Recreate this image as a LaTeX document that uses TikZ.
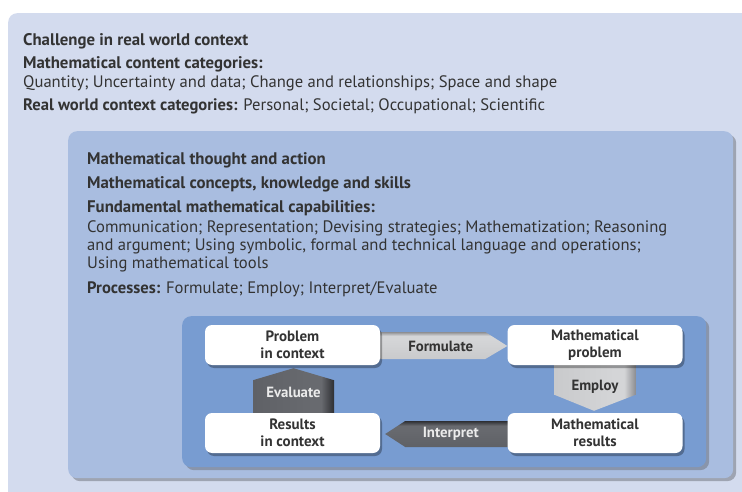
\documentclass[tikz,border=0pt]{standalone}
\usepackage{fontspec}
\setmainfont{PT Sans}
\usetikzlibrary{shadows,calc}
\definecolor{outerbg}{HTML}{D3DBEE}
\definecolor{midbg}{HTML}{A9BDE0}
\definecolor{innerbg}{HTML}{789CD1}
\definecolor{txt}{HTML}{333333}
\definecolor{shad}{HTML}{6B6E78}
\definecolor{la}{HTML}{C9CACC}
\definecolor{lb}{HTML}{D4D5D7}
\definecolor{lc}{HTML}{8D8E92}
\definecolor{da}{HTML}{5F6166}
\definecolor{db}{HTML}{686A6F}
\definecolor{dc}{HTML}{2E2F33}
\pgfdeclarelayer{back}
\pgfdeclarelayer{arr}
\pgfsetlayers{back,arr,main}
\pgfdeclareverticalshading{lightH}{100bp}{color(0bp)=(la);color(25bp)=(la);color(60bp)=(lb);color(68bp)=(lb);color(75bp)=(lc);color(100bp)=(lc)}
\pgfdeclareverticalshading{darkH}{100bp}{color(0bp)=(da);color(25bp)=(da);color(60bp)=(db);color(66bp)=(db);color(75bp)=(dc);color(100bp)=(dc)}
\pgfdeclarehorizontalshading{lightV}{100bp}{color(0bp)=(la);color(25bp)=(la);color(62bp)=(lb);color(68bp)=(lb);color(75bp)=(lc);color(100bp)=(lc)}
\pgfdeclarehorizontalshading{darkV}{100bp}{color(0bp)=(da);color(25bp)=(da);color(62bp)=(db);color(67bp)=(db);color(75bp)=(dc);color(100bp)=(dc)}
\tikzset{
  panel/.style={rounded corners=9pt, anchor=north west, inner sep=0pt, draw=none},
  plain/.style={font=\fontsize{16.6}{18}\selectfont, text=txt, anchor=base west, inner sep=0pt},
  head/.style={plain, font=\fontsize{16.8}{18}\selectfont\bfseries},
  wbox/.style={fill=white, rounded corners=7pt, minimum width=175pt, minimum height=40pt,
    align=center, text=txt, font=\fontsize{15}{16.8}\selectfont\bfseries, inner sep=0pt,
    drop shadow={shadow xshift=2pt, shadow yshift=-3pt, fill=black, opacity=0.3}},
  arrlabel/.style={font=\fontsize{14.8}{16}\selectfont\bfseries, inner sep=0pt},
}
\begin{document}
\begin{tikzpicture}[x=1pt,y=-1pt]
\useasboundingbox (0,0) rectangle (742,492);
\begin{pgfonlayer}{back}
\fill[white] (0,0) rectangle (742,492);
\node[panel, fill=outerbg, minimum width=780pt, minimum height=520pt] (outer) at (8,13) {};
\node[panel, fill=midbg, minimum width=665pt, minimum height=347pt,
  drop shadow={shadow xshift=3pt, shadow yshift=-3pt, fill=shad}] (mid) at (68,131) {};
\node[panel, fill=innerbg, minimum width=524pt, minimum height=151pt,
  drop shadow={shadow xshift=3pt, shadow yshift=-3pt, fill=shad}] (inner) at (182,316) {};
\end{pgfonlayer}

% outer texts
\node[head] (o1) at (23,45.5) {Challenge in real world context};
\node[head] (o2) at (23,68.5) {Mathematical content categories:};
\node[plain] (o3) at (23,88) {Quantity; Uncertainty and data; Change and relationships; Space and shape};
\node[plain] (o4) at (23,111) {\textbf{Real world context categories:} Personal; Societal; Occupational; Scientific};

% middle texts
\node[head] (m1) at (87,164.8) {Mathematical thought and action};
\node[head] (m2) at (87,189) {Mathematical concepts, knowledge and skills};
\node[head] (m3) at (87,212.2) {Fundamental mathematical capabilities:};
\node[plain] (m4) at (87,232.5) {Communication; Representation; Devising strategies; Mathematization; Reasoning};
\node[plain] (m5) at (87,250.5) {and argument; Using symbolic, formal and technical language and operations;};
\node[plain] (m6) at (87,268.5) {Using mathematical tools};
\node[plain] (m7) at (87,293.5) {\textbf{Processes:} Formulate; Employ; Interpret/Evaluate};

% white boxes
\node[wbox] (pc) at (292.5,345) {Problem\\in context};
\node[wbox] (mp) at (595,345) {Mathematical\\problem};
\node[wbox] (rc) at (292.5,433) {Results\\in context};
\node[wbox] (mr) at (595,433) {Mathematical\\results};

% arrows
\begin{pgfonlayer}{arr}
\path[shading=lightH] ($(pc.east)+(-10,-13)$) -- ($(mp.west)+(-22,-13)$) -- ($(mp.west)+(0,1)$)
  -- ($(mp.west)+(-22,14)$) -- ($(pc.east)+(-10,14)$) -- cycle;
\path[shading=lightV] ($(mp.south)+(-40.5,-5)$) -- ($(mr.north)+(-40.5,-18)$) -- ($(mr.north)+(-1,-2)$)
  -- ($(mr.north)+(40.5,-18)$) -- ($(mp.south)+(40.5,-5)$) -- cycle;
\path[shading=darkH] ($(mr.west)+(10,-12)$) -- ($(rc.east)+(25,-12)$) -- ($(rc.east)+(5,1)$)
  -- ($(rc.east)+(25,14)$) -- ($(mr.west)+(10,14)$) -- cycle;
\path[shading=darkV] ($(rc.north)+(-39.5,5)$) -- ($(pc.south)+(-39.5,15)$) -- ($(pc.south)+(1,3)$)
  -- ($(pc.south)+(41.5,15)$) -- ($(rc.north)+(41.5,5)$) -- cycle;
\end{pgfonlayer}

\node[arrlabel, text=txt] (lf) at ($(pc.east)!0.5!(mp.west)+(-3,1)$) {Formulate};
\node[arrlabel, text=txt] (le) at ($(mp.south)!0.5!(mr.north)+(0,-2)$) {Employ};
\node[arrlabel, text=white!92!black] (li) at ($(rc.east)!0.5!(mr.west)+(7,1)$) {Interpret};
\node[arrlabel, text=white!92!black] (lv) at ($(pc.south)!0.5!(rc.north)+(1,3)$) {Evaluate};
\end{tikzpicture}
\end{document}
